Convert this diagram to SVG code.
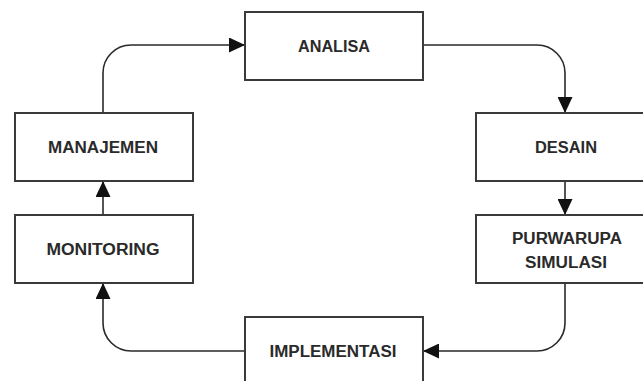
<svg xmlns="http://www.w3.org/2000/svg" width="643" height="381" viewBox="0 0 643 381">
  <style>
    .box { fill: #ffffff; stroke: #3a3a3a; stroke-width: 2; }
    .lbl { font-family: "Liberation Sans", Arial, sans-serif; font-size: 16px; font-weight: bold; fill: #2a2a2a; text-anchor: middle; }
    .conn { fill: none; stroke: #2a2a2a; stroke-width: 1.6; marker-end: url(#arrow); }
  </style>
  <defs>
    <marker id="arrow" markerUnits="userSpaceOnUse" markerWidth="16" markerHeight="15" refX="16" refY="7.5" orient="auto">
      <path d="M0,0 L16,7.5 L0,15 Z" fill="#111111"/>
    </marker>
  </defs>
  <rect width="643" height="381" fill="#ffffff"/>

  <g id="connectors">
    <path class="conn" d="M103,113 V73 A28,28 0 0 1 131,45 H245"/>
    <path class="conn" d="M423,45 H537 A28,28 0 0 1 565,73 V113"/>
    <path class="conn" d="M565,181 V215"/>
    <path class="conn" d="M565,283 V323 A28,28 0 0 1 537,351 H423"/>
    <path class="conn" d="M245,351 H131 A28,28 0 0 1 103,323 V283"/>
    <path class="conn" d="M103,215 V181"/>
  </g>

  <g id="analisa">
    <rect class="box" x="245" y="12" width="178" height="68"/>
    <text class="lbl" x="334" y="52" textLength="72" lengthAdjust="spacingAndGlyphs">ANALISA</text>
  </g>
  <g id="desain">
    <rect class="box" x="476" y="113" width="178" height="68"/>
    <text class="lbl" x="566" y="153" textLength="62" lengthAdjust="spacingAndGlyphs">DESAIN</text>
  </g>
  <g id="purwarupa">
    <rect class="box" x="476" y="215" width="178" height="68"/>
    <text class="lbl" x="567" y="244" textLength="110" lengthAdjust="spacingAndGlyphs">PURWARUPA</text>
    <text class="lbl" x="566" y="268" textLength="82" lengthAdjust="spacingAndGlyphs">SIMULASI</text>
  </g>
  <g id="implementasi">
    <rect class="box" x="245" y="317" width="178" height="68"/>
    <text class="lbl" x="333" y="357" textLength="127" lengthAdjust="spacingAndGlyphs">IMPLEMENTASI</text>
  </g>
  <g id="monitoring">
    <rect class="box" x="15" y="215" width="178" height="68"/>
    <text class="lbl" x="103" y="255" textLength="113" lengthAdjust="spacingAndGlyphs">MONITORING</text>
  </g>
  <g id="manajemen">
    <rect class="box" x="15" y="113" width="178" height="68"/>
    <text class="lbl" x="103" y="153" textLength="110" lengthAdjust="spacingAndGlyphs">MANAJEMEN</text>
  </g>
</svg>
